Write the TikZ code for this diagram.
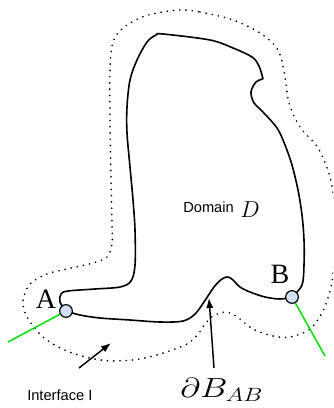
\documentclass[tikz,border=0pt]{standalone}
\usepackage{fontspec}
\setsansfont{Liberation Sans}
\newfontfamily\labelserif{Liberation Serif}
\usetikzlibrary{arrows.meta}
\definecolor{ptfill}{HTML}{CFE0F1}
\definecolor{ifgreen}{HTML}{00E000}
\tikzset{
  boundary/.style={line width=1.2pt, black, line join=round},
  interface/.style={line width=1.4pt, dash pattern=on 0pt off 4.7pt, line cap=round},
  greenline/.style={ifgreen, line width=1.1pt},
  ptnode/.style={circle, draw=black, line width=0.9pt, fill=ptfill, minimum size=9.5pt, inner sep=0pt},
  ptlabel/.style={font=\labelserif\fontsize{21}{25}\selectfont, inner sep=0pt},
  sflabel/.style={font=\sffamily\fontsize{11}{13}\selectfont, inner sep=0pt, anchor=base west},
  pointer/.style={line width=1.1pt, -{Latex[length=7.5pt,width=5.5pt]}}
}
\begin{document}
\begin{tikzpicture}[x=0.75pt,y=-0.75pt]
\useasboundingbox (0,0) rectangle (333,408);
\clip (0,0) rectangle (333,408);
% interface (dotted)
\draw[interface] plot[smooth cycle, tension=0.55] coordinates {
 (180,10) (200,12) (233,20) (260,33) (278,50) (285,77) (289,103) (300,127)
 (318,148) (330,177) (335,210) (336,240) (333,274) (330,291) (323,311)
 (310,329) (290,337) (273,336) (253,329) (236,316) (225,312) (213,316)
 (205,324) (198,334) (187,344) (160,354) (133,360) (100,360) (67,351)
 (43,337) (27,317) (23,301) (30,284) (47,274) (67,269) (93,263) (107,257)
 (112,244) (112,224) (111,180) (110,120) (110,70) (113,42) (123,28)
 (140,18) (157,13)};
% point coordinates
\coordinate (Ac) at (66,311);
\coordinate (Bc) at (292,297);
\coordinate (Aend) at (8,342);
\coordinate (Bend) at (325,356);
% domain boundary
\draw[boundary] plot[smooth, tension=0.55] coordinates {
 (66,311) (60,302) (61,294) (68,291) (95,289) (120,287) (131,281) (135,265)
 (135,230) (133,200) (130,167) (127,133) (127,107) (130,80) (137,60)
 (147,42) (156,35) (163,34) (210,40) (233,48) (252,57) (259,66) (263,79)};
\draw[boundary] plot[smooth, tension=0.55] coordinates {
 (263,79) (256,82) (251,92) (254,103) (262,111) (277,128) (285,145)
 (292,165) (298,190) (302,215) (304,240) (304,265) (302,285) (292,297)};
\draw[boundary] plot[smooth, tension=0.55] coordinates {
 (292,297) (280,299) (265,297) (250,292) (240,287) (233,280) (228,277)
 (222,279) (214,287) (204,302) (195,314) (183,321) (160,322) (130,320)
 (100,318) (80,315) (66,311)};
% green interface lines
\draw[greenline] (Ac) -- (Aend);
\draw[greenline] (Bc) -- (Bend);
% points
\node[ptnode] (A) at (Ac) {};
\node[ptnode] (B) at (Bc) {};
\node[ptlabel] (Alab) at (46,299) {A};
\node[ptlabel] (Blab) at (280,274) {B};
% labels
\node[sflabel] (dom) at (183,212) {Domain};
\node[inner sep=0pt, anchor=base west, font=\fontsize{19}{23}\selectfont] (domD) at (240,217) {$D$};
\node[sflabel] (intf) at (27,400) {Interface I};
\node[inner sep=0pt, anchor=base west, xscale=1.25, font=\fontsize{20}{24}\selectfont] (dB) at (180,397) {$\partial B_{AB}$};
% pointer arrows
\coordinate (p1s) at (79,368);
\coordinate (p1e) at (111,343);
\coordinate (p2s) at (214,368);
\coordinate (p2e) at (209,298);
\draw[pointer] (p1s) -- (p1e);
\draw[pointer] (p2s) -- (p2e);
\end{tikzpicture}
\end{document}
